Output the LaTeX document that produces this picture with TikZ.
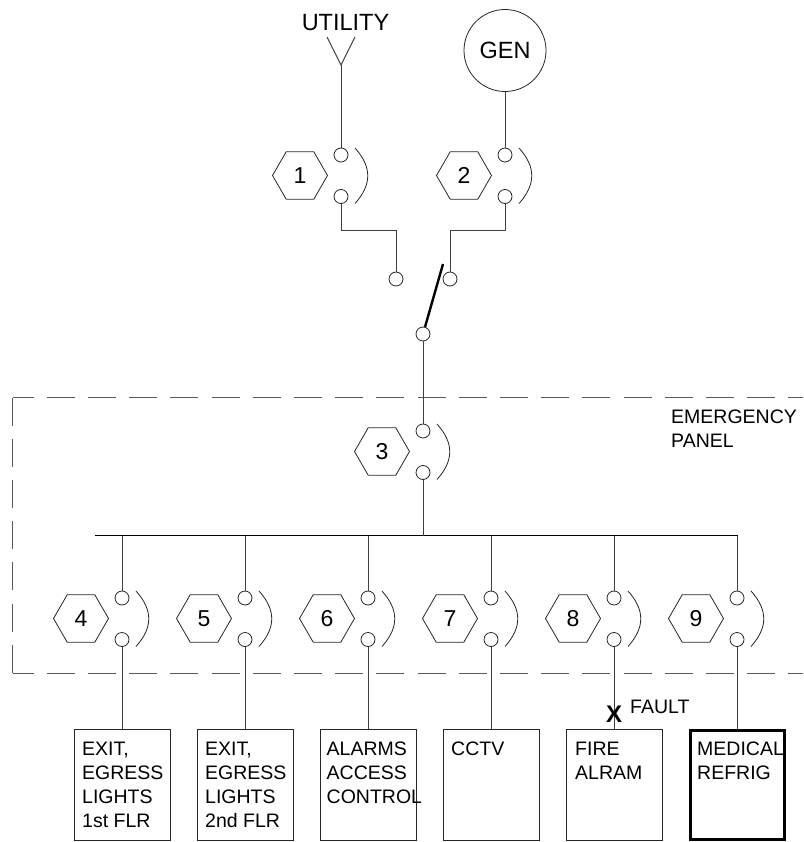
\documentclass[tikz,border=0pt]{standalone}
\usepackage{fontspec}
\setmainfont{Liberation Sans}
\usetikzlibrary{shapes.geometric}
\tikzset{
  wire/.style={draw=black!75,line width=0.9pt},
  term/.style={circle,draw=black!85,line width=0.8pt,fill=white,minimum size=14pt,inner sep=0pt},
  hexa/.style={regular polygon,regular polygon sides=6,draw=black!85,line width=0.8pt,minimum size=55pt,inner sep=0pt,font=\fontsize{23}{23}\selectfont},
  arcline/.style={draw=black!85,line width=0.8pt},
  loadbox/.style={draw=black!85,line width=0.9pt,minimum width=96pt,minimum height=111pt,inner sep=0pt},
  heavybox/.style={draw=black,line width=3pt,minimum width=94pt,minimum height=109pt,inner sep=0pt},
  boxtxt/.style={anchor=base west,inner sep=0pt,font=\fontsize{19.5}{19.5}\selectfont},
  paneldash/.style={draw=black!65,line width=0.9pt},
  bigtxt/.style={anchor=base,inner sep=0pt,font=\fontsize{23.5}{23.5}\selectfont}
}
\newcommand{\breakerunit}[4]{% name, x, y of upper terminal, number
  \node[term] (#1a) at (#2,#3) {};
  \node[term] (#1b) at (#2,#3+41.5) {};
  \node[hexa] (#1h) at (#2-41,#3+20.5) {#4};
  \coordinate (#1s) at (#2+14,#3-7);
  \coordinate (#1e) at (#2+14,#3+48.5);
  \coordinate (#1c) at (#2+31,#3+12);
  \coordinate (#1d) at (#2+31,#3+29.5);
  \draw[arcline] (#1s) .. controls (#1c) and (#1d) .. (#1e);
}
\begin{document}
\begin{tikzpicture}[x=1pt,y=-1pt]
\useasboundingbox (0,0) rectangle (803,842);
% panel
\coordinate (pTR) at (803,397.5);
\coordinate (pTL) at (12.5,397.5);
\coordinate (pBL) at (12.5,673.5);
\coordinate (pBR) at (803,673.5);
\draw[paneldash,dash pattern=on 28pt off 13.2pt,dash phase=7pt] (pTL) -- (pTR);
\draw[paneldash,dash pattern=on 28pt off 13.2pt,dash phase=7pt] (pBL) -- (pBR);
\draw[paneldash,dash pattern=on 28pt off 13.2pt] (pTL) -- (pBL);
% sources
\node[inner sep=0pt,bigtxt] (util) at (345.5,31) {UTILITY};
\coordinate (ytip) at (341,65);
\coordinate (yl) at (327,37);
\coordinate (yr) at (355,37);
\draw[wire,line width=1pt] (yl) -- (ytip) -- (yr);
\node[circle,draw=black!85,line width=0.8pt,minimum size=82pt,inner sep=0pt,font=\fontsize{23.5}{23.5}\selectfont] (gen) at (505,50.5) {GEN};
\breakerunit{u}{341}{155}{1}
\breakerunit{g}{505}{155}{2}
\node[term] (ats1) at (396,279) {};
\node[term] (ats2) at (450,279) {};
\node[term] (ats0) at (423,334) {};
\coordinate (armtip) at (443,264);
\draw[draw=black,line width=2.4pt] (ats0) -- (armtip);
\draw[wire] (ytip) -- (ua);
\draw[wire] (gen) -- (ga);
\draw[wire] (ub) |- (ats1 |- 0,230) -- (ats1);
\draw[wire] (gb) |- (ats2 |- 0,230) -- (ats2);
% main
\breakerunit{m}{423}{431}{3}
\draw[wire] (ats0) -- (ma);
\coordinate (busL) at (95,535.5);
\coordinate (busR) at (738,535.5);
\draw[draw=black,line width=1pt] (busL) -- (busR);
\draw[wire] (mb) -- (mb |- busL);
% branches
\breakerunit{a}{122}{598}{4}
\breakerunit{b}{245}{598}{5}
\breakerunit{c}{368}{598}{6}
\breakerunit{d}{491}{598}{7}
\breakerunit{e}{614}{598}{8}
\breakerunit{f}{737}{598}{9}
\node[loadbox] (la) at (122,785) {};
\node[loadbox] (lb) at (245,785) {};
\node[loadbox] (lc) at (368.5,785) {};
\node[loadbox] (ld) at (491,785) {};
\node[loadbox] (le) at (614.5,785) {};
\node[heavybox] (lf) at (737.5,785) {};
\foreach \n in {a,b,c,d,e,f}{
  \draw[wire] (\n a) -- (\n a |- busL);
  \draw[wire] (\n b) -- (\n b |- la.north);
}
% texts
\node[boxtxt] (t1) at (82,755) {EXIT,};
\node[boxtxt] (t2) at (82,779) {EGRESS};
\node[boxtxt] (t3) at (82,803) {LIGHTS};
\node[boxtxt] (t4) at (82,827) {1st FLR};
\node[boxtxt] (t5) at (205,755) {EXIT,};
\node[boxtxt] (t6) at (205,779) {EGRESS};
\node[boxtxt] (t7) at (205,803) {LIGHTS};
\node[boxtxt] (t8) at (205,827) {2nd FLR};
\node[boxtxt] (t9) at (326.5,755) {ALARMS};
\node[boxtxt] (t10) at (326.5,779) {ACCESS};
\node[boxtxt] (t11) at (326.5,803) {CONTROL};
\node[boxtxt] (t12) at (451,755) {CCTV};
\node[boxtxt] (t13) at (575,755) {FIRE};
\node[boxtxt] (t14) at (575,779) {ALRAM};
\node[boxtxt] (t15) at (697,755) {MEDICAL};
\node[boxtxt] (t16) at (697,779) {REFRIG};
\node[boxtxt] (pn1) at (671,423) {EMERGENCY};
\node[boxtxt] (pn2) at (671,447) {PANEL};
\node[boxtxt] (ft) at (630,713) {FAULT};
\node[anchor=base,inner sep=0pt,font=\fontsize{24}{24}\selectfont\bfseries] (xm) at (614,722) {X};
\end{tikzpicture}
\end{document}
